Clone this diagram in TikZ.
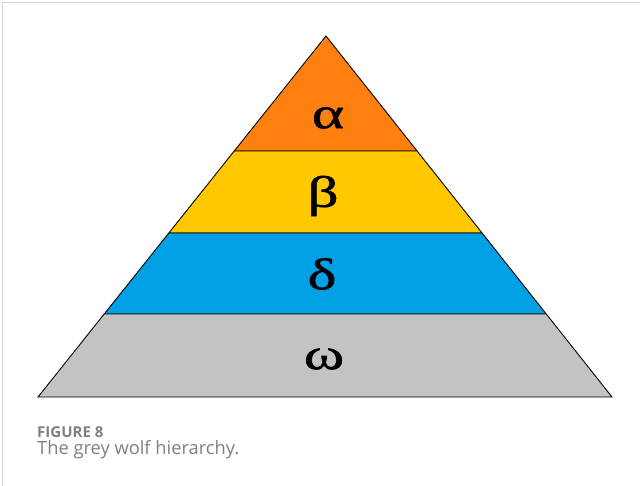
\documentclass[tikz,border=0pt]{standalone}
\usepackage{fontspec}
\newfontfamily\grfont[FakeStretch=1.4,FakeBold=1.3]{Liberation Serif}
\newfontfamily\capfont{Open Sans}
\usetikzlibrary{calc}
\definecolor{layA}{HTML}{FF7F0F}
\definecolor{layB}{HTML}{FFC800}
\definecolor{layD}{HTML}{00A0E4}
\definecolor{layW}{HTML}{C3C3C3}
\definecolor{frameC}{HTML}{D2D2D2}
\definecolor{capC}{HTML}{808080}
\tikzset{
  layer/.style={draw=black, line width=0.9pt, line join=miter},
  greek/.style={inner sep=0pt, font=\grfont\fontsize{44}{44}\selectfont},
  capt/.style={inner sep=0pt, anchor=base west, text=capC}
}
\begin{document}
\begin{tikzpicture}[x=1pt,y=-1pt]
\useasboundingbox (0,0) rectangle (640,486);
\fill[white] (0,0) rectangle (640,486);
\draw[frameC, line width=1.2pt] (2.6,486) -- (2.6,2.6) -- (640,2.6);
\coordinate (apex) at (326,36);
\coordinate (bl) at (38,397);
\coordinate (br) at (612,397);
\coordinate (l1) at ($(apex)!0.31856!(bl)$);
\coordinate (r1) at ($(apex)!0.31856!(br)$);
\coordinate (l2) at ($(apex)!0.54571!(bl)$);
\coordinate (r2) at ($(apex)!0.54571!(br)$);
\coordinate (l3) at ($(apex)!0.77008!(bl)$);
\coordinate (r3) at ($(apex)!0.77008!(br)$);
\filldraw[layer, fill=layA] (apex) -- (r1) -- (l1) -- cycle;
\filldraw[layer, fill=layB] (l1) -- (r1) -- (r2) -- (l2) -- cycle;
\filldraw[layer, fill=layD] (l2) -- (r2) -- (r3) -- (l3) -- cycle;
\filldraw[layer, fill=layW] (l3) -- (r3) -- (br) -- (bl) -- cycle;
\node[greek] (alpha) at (328,118) {α};
\node[greek] (beta) at (323,196) {β};
\node[greek] (delta) at (322,274) {δ};
\node[greek] (omega) at (324,359) {ω};
\node[capt, font=\capfont\bfseries\fontsize{15}{15}\selectfont] (fig) at (37,437) {FIGURE 8};
\node[capt, font=\capfont\fontsize{18.3}{18.3}\selectfont] (cap) at (37,454) {The grey wolf hierarchy.};
\end{tikzpicture}
\end{document}
